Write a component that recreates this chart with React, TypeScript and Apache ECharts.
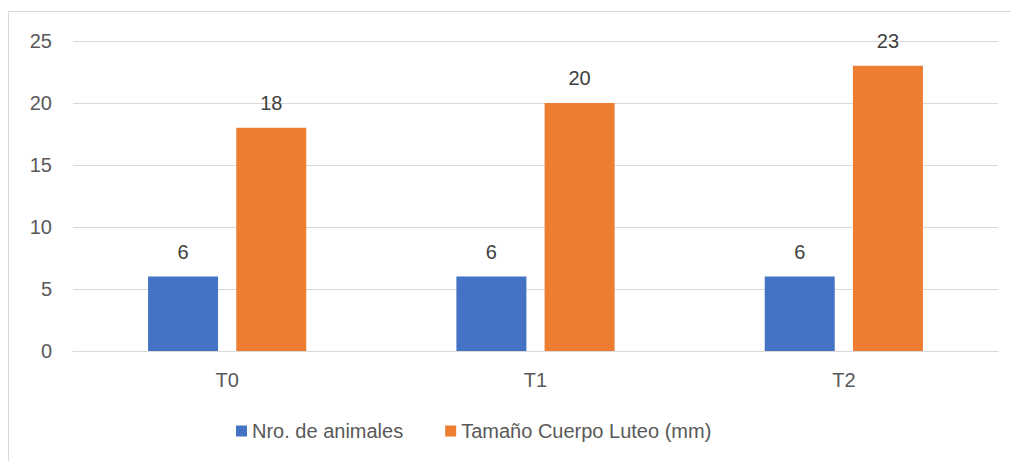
import React, { useEffect, useRef } from "react";
import * as echarts from "echarts";

const categories = ["T0", "T1", "T2"];
const seriesNames = ["Nro. de animales", "Tamaño Cuerpo Luteo (mm)"];
const animales = [6, 6, 6];
const cuerpoLuteo = [18, 20, 23];
const yTicks = { min: 0, max: 25, interval: 5 };

export default function App() {
  const ref = useRef<HTMLDivElement>(null);
  useEffect(() => {
    document.body.style.margin = "0";
    if (!ref.current) return;
    const chart = echarts.init(ref.current, null, { renderer: "svg" });
    const font = "'Liberation Sans', Arial, sans-serif";
    const label = {
      show: true,
      position: "top",
      distance: 15,
      color: "#404040",
      fontSize: 20,
      fontFamily: font,
    };
    chart.setOption({
      animation: false,
      backgroundColor: "#ffffff",
      textStyle: { fontFamily: font },
      graphic: [
        { type: "line", shape: { x1: 8.5, y1: 11, x2: 8.5, y2: 461 }, style: { stroke: "#d9d9d9", lineWidth: 1 } },
        { type: "line", shape: { x1: 8, y1: 11.5, x2: 1011, y2: 11.5 }, style: { stroke: "#d9d9d9", lineWidth: 1 } },
      ],
      grid: { left: 73, right: 13, top: 41, bottom: 110, containLabel: false },
      legend: {
        bottom: 20,
        left: 236,
        padding: 0,
        itemWidth: 11,
        itemHeight: 11,
        itemGap: 42,
        icon: "rect",
        textStyle: { color: "#595959", fontSize: 20, fontFamily: font },
        data: seriesNames,
      },
      xAxis: {
        type: "category",
        data: categories,
        axisLine: { show: true, lineStyle: { color: "#d9d9d9", width: 1 } },
        axisTick: { show: false },
        axisLabel: { color: "#595959", fontSize: 20, margin: 19, fontFamily: font },
      },
      yAxis: {
        type: "value",
        min: yTicks.min,
        max: yTicks.max,
        interval: yTicks.interval,
        axisLine: { show: false },
        axisTick: { show: false },
        splitLine: { lineStyle: { color: "#d9d9d9", width: 1 } },
        axisLabel: { color: "#595959", fontSize: 20, margin: 21, fontFamily: font },
      },
      series: [
        {
          name: seriesNames[0],
          type: "bar",
          data: animales,
          barWidth: 70,
          barGap: "26%",
          itemStyle: { color: "#4472c4" },
          label,
        },
        {
          name: seriesNames[1],
          type: "bar",
          data: cuerpoLuteo,
          barWidth: 70,
          barGap: "26%",
          itemStyle: { color: "#ed7d31" },
          label,
        },
      ],
    });
    return () => chart.dispose();
  }, []);
  return <div ref={ref} style={{ width: 1011, height: 461 }} />;
}
